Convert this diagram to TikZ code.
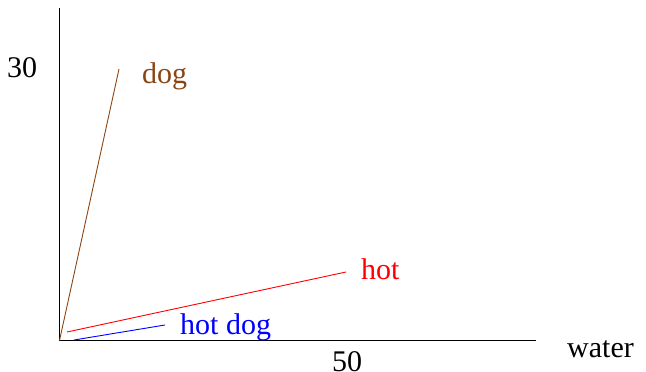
\documentclass[tikz,border=0pt]{standalone}
\usepackage{fontspec}
\setmainfont{Liberation Serif}
\definecolor{dogbrown}{RGB}{139,69,19}
\begin{document}
\begin{tikzpicture}[x=1pt,y=-1pt,
  lbl/.style={anchor=base west,inner sep=0pt,font=\fontsize{30}{36}\selectfont},
  axis/.style={draw=black,line width=1.2pt},
  vec/.style={line width=0.9pt}]
\useasboundingbox (0,0) rectangle (646,372);
\coordinate (o) at (59.5,340.5);
\coordinate (ytop) at (59.5,8);
\coordinate (xend) at (536,340.5);
\draw[axis] (ytop) -- (o) -- (xend);
\coordinate (dogtip) at (119,69);
\draw[vec,dogbrown] (o) -- (dogtip);
\coordinate (hots) at (67,332);
\coordinate (hote) at (346,272);
\draw[vec,red] (hots) -- (hote);
\coordinate (hds) at (74,340);
\coordinate (hde) at (165,325);
\draw[vec,blue] (hds) -- (hde);
\node[lbl,text=dogbrown] (doglbl) at (142,83) {dog};
\node[lbl,text=red] (hotlbl) at (361,279) {hot};
\node[lbl,text=blue] (hdlbl) at (180,334) {hot dog};
\node[lbl] (ylbl) at (7,77) {30};
\node[lbl] (xlbl) at (332,371) {50};
\node[lbl] (wlbl) at (567,357) {water};
\end{tikzpicture}
\end{document}
